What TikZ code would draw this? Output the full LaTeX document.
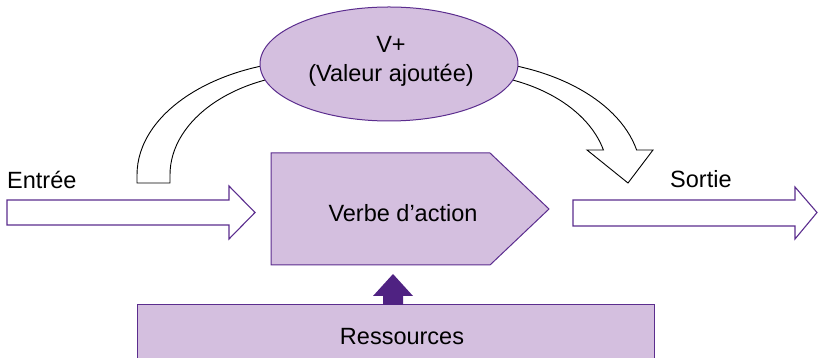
\documentclass[tikz,border=0pt]{standalone}
\usepackage{fontspec}
\setmainfont{Liberation Sans}
\usetikzlibrary{shapes.geometric}
\definecolor{lav}{HTML}{D4BFDF}
\definecolor{plum}{HTML}{5B2D8E}
\definecolor{deepplum}{HTML}{4F2282}
\begin{document}
\begin{tikzpicture}[x=1pt,y=1pt,
  lbl/.style={font=\fontsize{23.5}{28.4}\selectfont, inner sep=0pt, text=black},
  purpleshape/.style={draw=plum, fill=lav, line width=1pt, line join=miter},
  blockarrow/.style={draw=plum, fill=white, line width=1.1pt, line join=miter},
  curvedarrow/.style={draw=black, fill=white, line width=0.9pt, line join=miter}]
\useasboundingbox (0,0) rectangle (818,358);
\clip (0,0) rectangle (818,358);

% resources box and the thick arrow feeding the process
\draw[purpleshape] (137,-10) rectangle (654,53);
\node[lbl, anchor=base] (ress) at (402,13) {Ressources};
\coordinate (feedBase) at (393,53);
\coordinate (feedTip) at (393,84);
\fill[deepplum] ([xshift=-10pt]feedBase) -- ++(0,9) -- ++(-10,0) -- (feedTip)
  -- ([xshift=20pt,yshift=9pt]feedBase) -- ([xshift=10pt,yshift=9pt]feedBase)
  -- ([xshift=10pt]feedBase) -- cycle;

% process block (pentagon pointing right)
\draw[purpleshape] (271,93) -- (490,93) -- (549,149) -- (490,205) -- (271,205) -- cycle;
\node[lbl, anchor=base] (verbe) at (403,136.3) {Verbe d’action};

% input and output block arrows
\draw[blockarrow] (7,133) -- (229,133) -- (229,119) -- (255,145.5) -- (229,172)
  -- (229,158) -- (7,158) -- cycle;
\node[lbl, anchor=base west] (entree) at (7,169) {Entrée};
\draw[blockarrow] (573,132) -- (795,132) -- (795,119) -- (817,145.5) -- (795,171)
  -- (795,158) -- (573,158) -- cycle;
\node[lbl, anchor=base west] (sortie) at (670,170) {Sortie};

% curved arrows around the added-value ellipse
\draw[curvedarrow] (137,175) -- (137,183)
  arc[start angle=180, end angle=90, x radius=183, y radius=115]
  -- (320,285)
  arc[start angle=90, end angle=180, x radius=150, y radius=102]
  -- (170,175) -- cycle;
\draw[curvedarrow] (458,298)
  arc[start angle=90, end angle={asin(25/115)}, x radius=183, y radius=115]
  -- (653,208) -- (628,175) -- (587,208)
  -- ({458+150*cos(asin(25/102))},208)
  arc[start angle={asin(25/102)}, end angle=90, x radius=150, y radius=102]
  -- cycle;

% added-value ellipse
\node[purpleshape, ellipse, minimum width=258, minimum height=114, inner sep=0pt]
  (vplus) at (389,294) {};
\node[lbl, align=center] (vtext) at (391,296.5) {V+\\(Valeur ajoutée)};
\end{tikzpicture}
\end{document}
